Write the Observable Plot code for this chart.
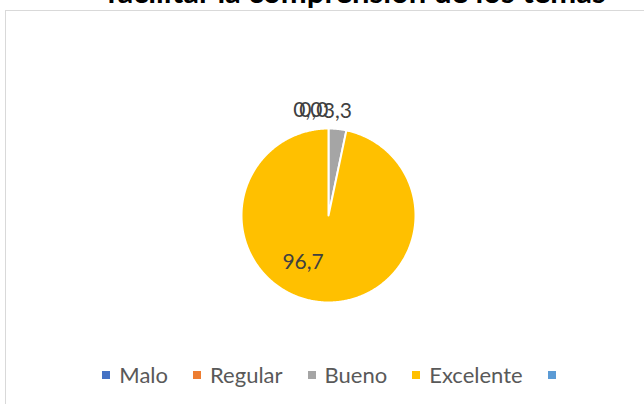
<!DOCTYPE html>
<html>
<head>
<meta charset="utf-8">
<script src="https://cdn.jsdelivr.net/npm/d3@7"></script>
<script src="https://cdn.jsdelivr.net/npm/@observablehq/plot@0.6"></script>
<style>
  html, body { margin: 0; padding: 0; background: #fff; overflow: hidden; }
  #wrap { position: relative; width: 644px; height: 404px; overflow: hidden; background: #fff; font-family: Lato, "Open Sans", sans-serif; }
  #frame { position: absolute; left: 5px; top: 10px; width: 700px; height: 500px; border: 1px solid #d9d9d9; box-sizing: border-box; }
  #title { position: absolute; left: 0; width: 712px; top: -27px; text-align: center; font-weight: bold; font-size: 31px; color: #000; line-height: 36px; white-space: nowrap; }
  #chart { position: absolute; left: 0; top: 0; }
  #legend { position: absolute; left: 0; width: 667px; top: 362px; display: flex; justify-content: center; align-items: center; font-size: 22px; color: #595959; line-height: 26px; }
  .item { display: flex; align-items: center; margin-right: 25px; }
  .item:last-child { margin-right: 0; }
  .sw { width: 8px; height: 8px; margin-right: 9px; }
</style>
</head>
<body>
<div id="wrap">
  <div id="frame"></div>
  <div id="title">facilitar la comprensión de los temas</div>
  <div id="chart"></div>
  <div id="legend"></div>
</div>
<script>
// ---- data ----
const categories = ["Malo", "Regular", "Bueno", "Excelente", ""];
const values = [0.0, 0.0, 3.3, 96.7, null];
const valueLabels = ["0,0", "0,0", "3,3", "96,7"];
const colors = ["#4472C4", "#ED7D31", "#A5A5A5", "#FFC000", "#5B9BD5"];

// ---- build slices ----
const rows = categories.slice(0, 4).map((c, i) => ({category: c, value: values[i], label: valueLabels[i]}));
const arcs = d3.pie().sort(null).value(d => d.value)(rows);
const pt = (a, r) => [r * Math.sin(a), r * Math.cos(a)];

const slices = {
  type: "FeatureCollection",
  features: arcs.filter(a => a.data.value > 0).map(a => {
    const n = Math.max(2, Math.ceil((a.endAngle - a.startAngle) / 0.01));
    const ring = [[0, 0]];
    for (let k = 0; k <= n; ++k) ring.push(pt(a.startAngle + (a.endAngle - a.startAngle) * k / n, 1));
    ring.push([0, 0]);
    return {type: "Feature", properties: {category: a.data.category}, geometry: {type: "Polygon", coordinates: [ring]}};
  })
};

const labelPos = arcs.map(a => {
  const mid = (a.startAngle + a.endAngle) / 2;
  const small = a.data.value < 10;
  const [x, y] = pt(mid, small ? 1.207 : 0.6);
  return {...a.data, x, y};
});

const colorScale = {domain: categories, range: colors};
const byCat = c => labelPos.filter(d => d.category === c);
const textStyle = {x: "x", y: "y", text: "label", fill: "#404040", fontSize: 21, fontFamily: "Lato"};

const plot = Plot.plot({
  width: 644,
  height: 404,
  marginLeft: 241,
  marginRight: 229,
  marginTop: 128,
  marginBottom: 102,
  projection: {type: "reflect-y", clip: false, domain: {type: "MultiPoint", coordinates: [[-1, -1], [1, 1]]}},
  color: colorScale,
  style: {background: "transparent", overflow: "visible"},
  marks: [
    Plot.geo(slices.features, {fill: d => d.properties.category, stroke: "white", strokeWidth: 2, strokeLinejoin: "round"}),
    Plot.text(byCat("Malo"), {...textStyle, textAnchor: "end", dx: -6, clip: false}),
    Plot.text(byCat("Regular"), {...textStyle, textAnchor: "end", dx: 0, clip: false}),
    Plot.text(byCat("Bueno"), {...textStyle, textAnchor: "middle", dx: -2, clip: false}),
    Plot.text(byCat("Excelente"), {...textStyle, textAnchor: "middle", dx: -20, dy: -5})
  ]
});
document.getElementById("chart").appendChild(plot);

// ---- legend ----
const legend = document.getElementById("legend");
categories.forEach((c, i) => {
  const item = document.createElement("div");
  item.className = "item";
  const sw = document.createElement("span");
  sw.className = "sw";
  sw.style.background = colors[i];
  item.appendChild(sw);
  const t = document.createElement("span");
  t.textContent = c;
  item.appendChild(t);
  legend.appendChild(item);
});
</script>
</body>
</html>
